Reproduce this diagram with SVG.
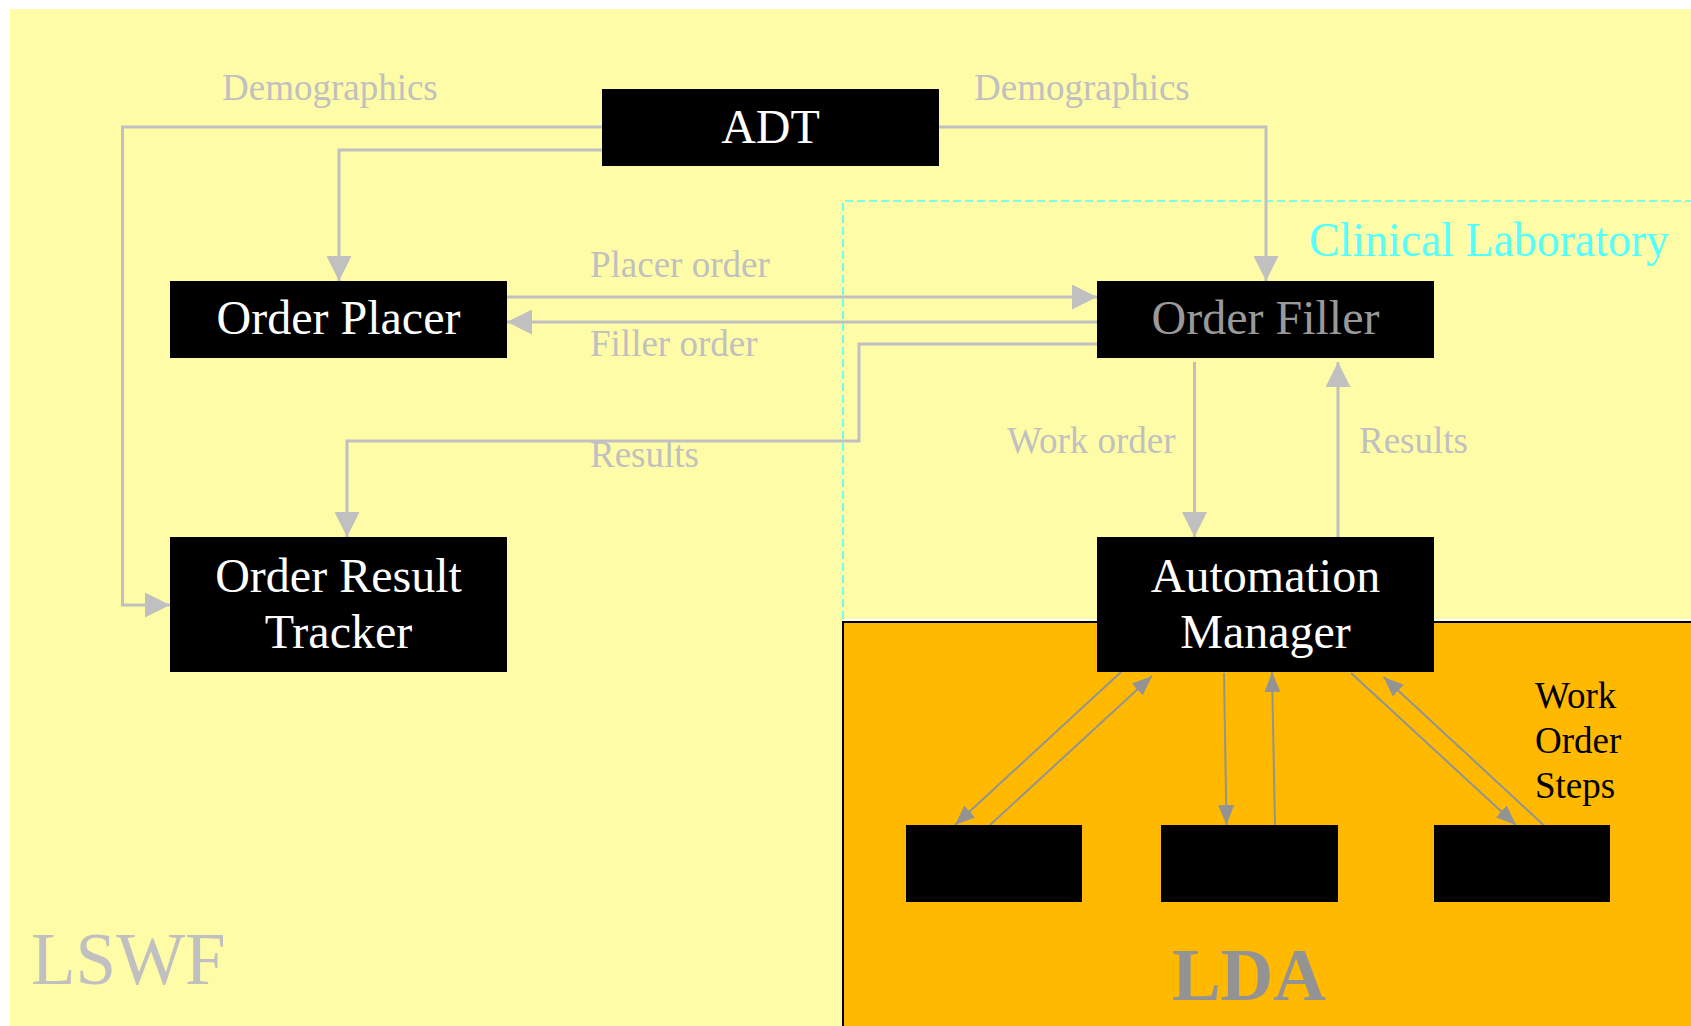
<svg xmlns="http://www.w3.org/2000/svg" width="1691" height="1026" viewBox="0 0 1691 1026">
<style>
.box{fill:#000000}
.nt{font-family:"Liberation Serif","Times New Roman",serif;font-size:48px;fill:#FFFFFF;text-anchor:middle}
.lb{font-family:"Liberation Serif","Times New Roman",serif;font-size:37px;fill:#C0C0C0}
.con{fill:none;stroke:#C0C0C0;stroke-width:3}
.lda{fill:none;stroke:#939393;stroke-width:2}
</style>
<defs>
<marker id="ah" markerUnits="userSpaceOnUse" viewBox="0 0 25 25" markerWidth="25" markerHeight="25" refX="25" refY="12.5" orient="auto">
<path d="M0,0 L25,12.5 L0,25 z" fill="#C0C0C0"/>
</marker>
<marker id="ah2" markerUnits="userSpaceOnUse" viewBox="0 0 20 16" markerWidth="20" markerHeight="16" refX="20" refY="8" orient="auto">
<path d="M0,0 L20,8 L0,16 z" fill="#939393"/>
</marker>
</defs>
<rect x="0" y="0" width="1691" height="1026" fill="#FFFFFF"/>
<rect id="lswf-area" x="10" y="9" width="1681" height="1017" fill="#FFFCA8"/>
<g id="clinical-lab">
<path d="M843,619 V201 H1691" fill="none" stroke="#55FFFF" stroke-width="1.7" stroke-dasharray="8,4"/>
<text x="1309" y="256" font-family="Liberation Serif, serif" font-size="48" fill="#55FFFF" textLength="360" lengthAdjust="spacingAndGlyphs">Clinical Laboratory</text>
</g>
<g id="lda-area">
<rect x="843" y="619" width="848" height="2" fill="#FFFFFF"/>
<rect x="843" y="622" width="860" height="420" fill="#FFB900" stroke="#000000" stroke-width="2"/>
<text x="1249" y="1000" font-family="Liberation Serif, serif" font-size="73" font-weight="bold" fill="#939393" text-anchor="middle">LDA</text>
</g>
<text id="lswf-label" x="31" y="984" font-family="Liberation Serif, serif" font-size="73" fill="#C0C0C0">LSWF</text>
<g id="connectors">
<path class="con" d="M602,127 H122.5 V605 H170" marker-end="url(#ah)"/>
<path class="con" d="M602,150 H339 V281" marker-end="url(#ah)"/>
<path class="con" d="M939,127 H1266 V281" marker-end="url(#ah)"/>
<path class="con" d="M507,297 H1097" marker-end="url(#ah)"/>
<path class="con" d="M1097,322 H507" marker-end="url(#ah)"/>
<path class="con" d="M1097,344 H859 V441 H347 V537" marker-end="url(#ah)"/>
<path class="con" d="M1194.5,362 V537" marker-end="url(#ah)"/>
<path class="con" d="M1338,537 V362" marker-end="url(#ah)"/>
<path class="lda" d="M1121,672 L955,825" marker-end="url(#ah2)"/>
<path class="lda" d="M990,825 L1152,676" marker-end="url(#ah2)"/>
<path class="lda" d="M1224,673 L1226.5,825" marker-end="url(#ah2)"/>
<path class="lda" d="M1275,825 L1272,672" marker-end="url(#ah2)"/>
<path class="lda" d="M1351,673 L1516,825" marker-end="url(#ah2)"/>
<path class="lda" d="M1543.5,825 L1383.6,677" marker-end="url(#ah2)"/>
</g>
<g id="connector-labels">
<text class="lb" x="222" y="100">Demographics</text>
<text class="lb" x="974" y="100">Demographics</text>
<text class="lb" x="590" y="277">Placer order</text>
<text class="lb" x="590" y="356">Filler order</text>
<text class="lb" x="590" y="467">Results</text>
<text class="lb" x="1007" y="453">Work order</text>
<text class="lb" x="1359" y="453">Results</text>
</g>
<g id="adt">
<rect class="box" x="602" y="89" width="337" height="77"/>
<text class="nt" x="770.5" y="143">ADT</text>
</g>
<g id="order-placer">
<rect class="box" x="170" y="281" width="337" height="77"/>
<text class="nt" x="338.5" y="334">Order Placer</text>
</g>
<g id="order-filler">
<rect class="box" x="1097" y="281" width="337" height="77"/>
<text class="nt" x="1265.5" y="334" style="fill:#999999">Order Filler</text>
</g>
<g id="order-result-tracker">
<rect class="box" x="170" y="537" width="337" height="135"/>
<text class="nt" x="338.5" y="592">Order Result</text>
<text class="nt" x="338.5" y="648">Tracker</text>
</g>
<g id="automation-manager">
<rect class="box" x="1097" y="537" width="337" height="135"/>
<text class="nt" x="1265.5" y="592">Automation</text>
<text class="nt" x="1265.5" y="648">Manager</text>
</g>
<g id="device-1"><rect class="box" x="906" y="825" width="176" height="77"/></g>
<g id="device-2"><rect class="box" x="1161" y="825" width="177" height="77"/></g>
<g id="device-3"><rect class="box" x="1434" y="825" width="176" height="77"/></g>
<g id="work-order-steps">
<text x="1535" y="708" font-family="Liberation Serif, serif" font-size="37" fill="#000000">Work</text>
<text x="1535" y="753" font-family="Liberation Serif, serif" font-size="37" fill="#000000">Order</text>
<text x="1535" y="798" font-family="Liberation Serif, serif" font-size="37" fill="#000000">Steps</text>
</g>
</svg>
